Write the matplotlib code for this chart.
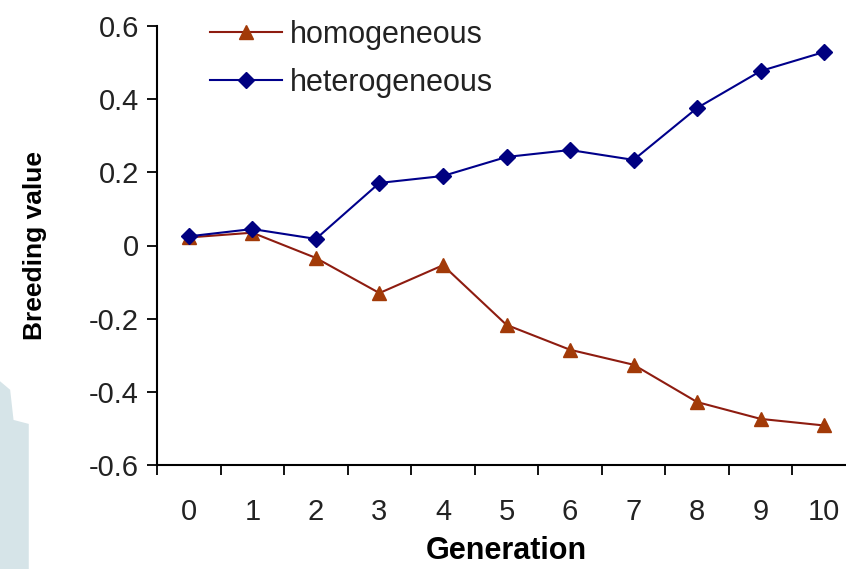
import matplotlib
matplotlib.use("Agg")
import matplotlib.pyplot as plt
from matplotlib.patches import Polygon
from matplotlib.ticker import FixedLocator, NullFormatter

plt.rcParams['font.family'] = ['Liberation Sans', 'DejaVu Sans']

# Data
generations = [str(g) for g in range(11)]
homogeneous = [0.022, 0.035, -0.034, -0.130, -0.054, -0.217, -0.285, -0.326, -0.428, -0.474, -0.492]
heterogeneous = [0.025, 0.045, 0.018, 0.171, 0.190, 0.242, 0.261, 0.234, 0.376, 0.477, 0.529]
y_ticks = [0.6, 0.4, 0.2, 0, -0.2, -0.4, -0.6]
y_tick_labels = ["0.6", "0.4", "0.2", "0", "-0.2", "-0.4", "-0.6"]

fig = plt.figure(figsize=(8.46, 5.69), dpi=100)
fig.patch.set_facecolor('white')

# faint blue-grey smear on the left edge of the original image
fig.patches.append(Polygon([(0, 0), (0.034, 0), (0.034, 0.255), (0.016, 0.262), (0.012, 0.315), (0, 0.33)],
                           closed=True, transform=fig.transFigure, facecolor='#d6e4e8',
                           edgecolor='none', zorder=0))

ax = fig.add_axes([157 / 846, 1 - 465 / 569, 699 / 846, 439 / 569])
x = list(range(len(generations)))

ax.plot(x, homogeneous, color='#8e1c10', lw=1.5, marker='^', markersize=10,
        markerfacecolor='#a23a08', markeredgecolor='#a23a08', label='homogeneous')
ax.plot(x, heterogeneous, color='#00008b', lw=1.5, marker='D', markersize=8,
        markerfacecolor='#000080', markeredgecolor='#000080', label='heterogeneous')

ax.set_xlim(-0.5, len(generations) - 0.5)
ax.set_ylim(-0.6, 0.6)

# category axis: tick marks between categories, labels at centers
ax.xaxis.set_major_locator(FixedLocator([i - 0.5 for i in range(len(generations) + 1)]))
ax.xaxis.set_major_formatter(NullFormatter())
ax.xaxis.set_minor_locator(FixedLocator(x))
ax.set_xticklabels(generations, minor=True)
ax.tick_params(axis='x', which='major', direction='out', length=7, width=1.3)
ax.tick_params(axis='x', which='minor', length=0, pad=24, labelsize=21)

ax.set_yticks(y_ticks)
ax.set_yticklabels(y_tick_labels)
ax.tick_params(axis='y', direction='out', length=7, width=1.3, pad=6, labelsize=21)
for lab in ax.get_xticklabels(minor=True) + ax.get_yticklabels():
    lab.set_color('#222222')

for side in ['top', 'right']:
    ax.spines[side].set_visible(False)
for side in ['left', 'bottom']:
    ax.spines[side].set_linewidth(1.5)
    ax.spines[side].set_color('black')

ax.set_xlabel("Generation", fontsize=22, fontweight='bold', labelpad=7)
ax.set_ylabel("Breeding value", fontsize=19, fontweight='bold', labelpad=30)

leg = ax.legend(loc='upper left', bbox_to_anchor=(210 / 846, 1 - 20 / 569),
                bbox_transform=fig.transFigure, frameon=False, fontsize=22,
                handlelength=2.35, handletextpad=0.26, labelspacing=0.58,
                borderpad=0, borderaxespad=0)
for t in leg.get_texts():
    t.set_color('#222222')

fig.savefig('out.png', dpi=100)
